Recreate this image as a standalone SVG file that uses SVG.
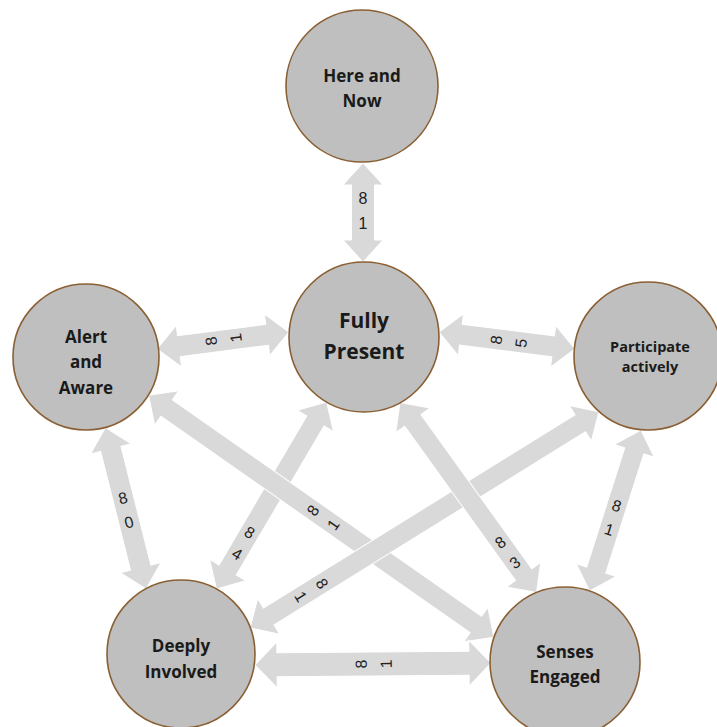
<svg xmlns="http://www.w3.org/2000/svg" width="717" height="727" viewBox="0 0 717 727">
<style>
.node circle{fill:#bfbfbf;stroke:#8a5f33;stroke-width:1.6}
.node text{font-family:"Open Sans","Liberation Sans",sans-serif;font-weight:bold;fill:#1a1a1a;text-anchor:middle}
.arrow{fill:#d9d9d9;stroke:#ffffff;stroke-width:1}
.lbl{font-family:"Liberation Sans",Arial,sans-serif;font-size:16px;fill:#222;text-anchor:middle}
</style>
<rect width="717" height="727" fill="#ffffff"/>
<g id="connectors">
  <g id="c-here-fully" transform="translate(363,212.5)">
    <polygon class="arrow" points="0,-49.5 20,-27.5 11.5,-27.5 11.5,27.5 20,27.5 0,49.5 -20,27.5 -11.5,27.5 -11.5,-27.5 -20,-27.5"/>
  </g>
  <g id="c-alert-fully" transform="translate(223,340.5) rotate(-97.3)">
    <polygon class="arrow" points="0,-66.5 21,-44.5 10.5,-44.5 10.5,44.5 21,44.5 0,66.5 -21,44.5 -10.5,44.5 -10.5,-44.5 -21,-44.5"/>
  </g>
  <g id="c-fully-participate" transform="translate(507,340.5) rotate(-82.9)">
    <polygon class="arrow" points="0,-68.5 21,-46.5 10.5,-46.5 10.5,46.5 21,46.5 0,68.5 -21,46.5 -10.5,46.5 -10.5,-46.5 -21,-46.5"/>
  </g>
  <g id="c-alert-deeply" transform="translate(125.75,508.25) rotate(-14.1)">
    <polygon class="arrow" points="0,-83.25 21,-61.25 10.5,-61.25 10.5,61.25 21,61.25 0,83.25 -21,61.25 -10.5,61.25 -10.5,-61.25 -21,-61.25"/>
  </g>
  <g id="c-fully-deeply" transform="translate(271.55,495.5) rotate(30.5)">
    <polygon class="arrow" points="0,-108.5 21,-86.5 10,-86.5 10,86.5 21,86.5 0,108.5 -21,86.5 -10,86.5 -10,-86.5 -21,-86.5"/>
  </g>
  <g id="c-alert-senses" transform="translate(321.25,516.25) rotate(-55)">
    <polygon class="arrow" points="0,-210.75 21,-188.75 10,-188.75 10,188.75 21,188.75 0,210.75 -21,188.75 -10,188.75 -10,-188.75 -21,-188.75"/>
  </g>
  <g id="c-participate-deeply" transform="translate(424.5,519.85) rotate(58.2)">
    <polygon class="arrow" points="0,-205.3 21,-183.3 10,-183.3 10,183.3 21,183.3 0,205.3 -21,183.3 -10,183.3 -10,-183.3 -21,-183.3"/>
  </g>
  <g id="c-fully-senses" transform="translate(468.25,497.5) rotate(-35.7)">
    <polygon class="arrow" points="0,-117 21,-95 10,-95 10,95 21,95 0,117 -21,95 -10,95 -10,-95 -21,-95"/>
  </g>
  <g id="c-participate-senses" transform="translate(615.25,510.5) rotate(17.7)">
    <polygon class="arrow" points="0,-84.5 21,-62.5 10,-62.5 10,62.5 21,62.5 0,84.5 -21,62.5 -10,62.5 -10,-62.5 -21,-62.5"/>
  </g>
  <g id="c-deeply-senses" transform="translate(373,664) rotate(-90.5)">
    <polygon class="arrow" points="0,-118 23,-96 12,-96 12,96 23,96 0,118 -23,96 -12,96 -12,-96 -23,-96"/>
  </g>
  <g id="labels">
    <g transform="translate(363,210.5)"><text class="lbl" x="0" y="-6.8">8</text><text class="lbl" x="0" y="18.2">1</text></g>
    <g transform="translate(223.5,339.5) rotate(-97.3)"><text class="lbl" x="0" y="-6.8">8</text><text class="lbl" x="0" y="18.2">1</text></g>
    <g transform="translate(508.5,341.5) rotate(-82.9)"><text class="lbl" x="0" y="-6.8">8</text><text class="lbl" x="0" y="18.2">5</text></g>
    <g transform="translate(126,510) rotate(-14.1)"><text class="lbl" x="0" y="-6.8">8</text><text class="lbl" x="0" y="18.2">0</text></g>
    <g transform="translate(243.5,543) rotate(30.5)"><text class="lbl" x="0" y="-6.8">8</text><text class="lbl" x="0" y="18.2">4</text></g>
    <g transform="translate(323,517.5) rotate(-55)"><text class="lbl" x="0" y="-6.8">8</text><text class="lbl" x="0" y="18.2">1</text></g>
    <g transform="translate(311.5,590) rotate(58.2)"><text class="lbl" x="0" y="-6.8">8</text><text class="lbl" x="0" y="18.2">1</text></g>
    <g transform="translate(507.5,552.5) rotate(-35.7)"><text class="lbl" x="0" y="-6.8">8</text><text class="lbl" x="0" y="18.2">3</text></g>
    <g transform="translate(613,517.5) rotate(17.7)"><text class="lbl" x="0" y="-6.8">8</text><text class="lbl" x="0" y="18.2">1</text></g>
    <g transform="translate(373.5,664) rotate(-90.5)"><text class="lbl" x="0" y="-6.8">8</text><text class="lbl" x="0" y="18.2">1</text></g>
  </g>
</g>
<g id="here-and-now" class="node">
  <circle cx="362" cy="86" r="76"/>
  <text x="362" y="82" font-size="17">Here and</text>
  <text x="362" y="107" font-size="17">Now</text>
</g>
<g id="fully-present" class="node">
  <circle cx="364" cy="337" r="75"/>
  <text x="364" y="328" font-size="21">Fully</text>
  <text x="364" y="359" font-size="21">Present</text>
</g>
<g id="alert-and-aware" class="node">
  <circle cx="86" cy="357" r="73"/>
  <text x="86" y="343" font-size="17">Alert</text>
  <text x="86" y="368" font-size="17">and</text>
  <text x="86" y="394" font-size="17">Aware</text>
</g>
<g id="participate-actively" class="node">
  <circle cx="648" cy="356" r="74"/>
  <text x="650" y="352" font-size="14.5">Participate</text>
  <text x="650" y="372" font-size="14.5">actively</text>
</g>
<g id="deeply-involved" class="node">
  <circle cx="181" cy="654" r="74"/>
  <text x="181" y="652" font-size="17">Deeply</text>
  <text x="181" y="678" font-size="17">Involved</text>
</g>
<g id="senses-engaged" class="node">
  <circle cx="565" cy="662" r="75"/>
  <text x="565" y="658" font-size="17">Senses</text>
  <text x="565" y="683" font-size="17">Engaged</text>
</g>
</svg>
